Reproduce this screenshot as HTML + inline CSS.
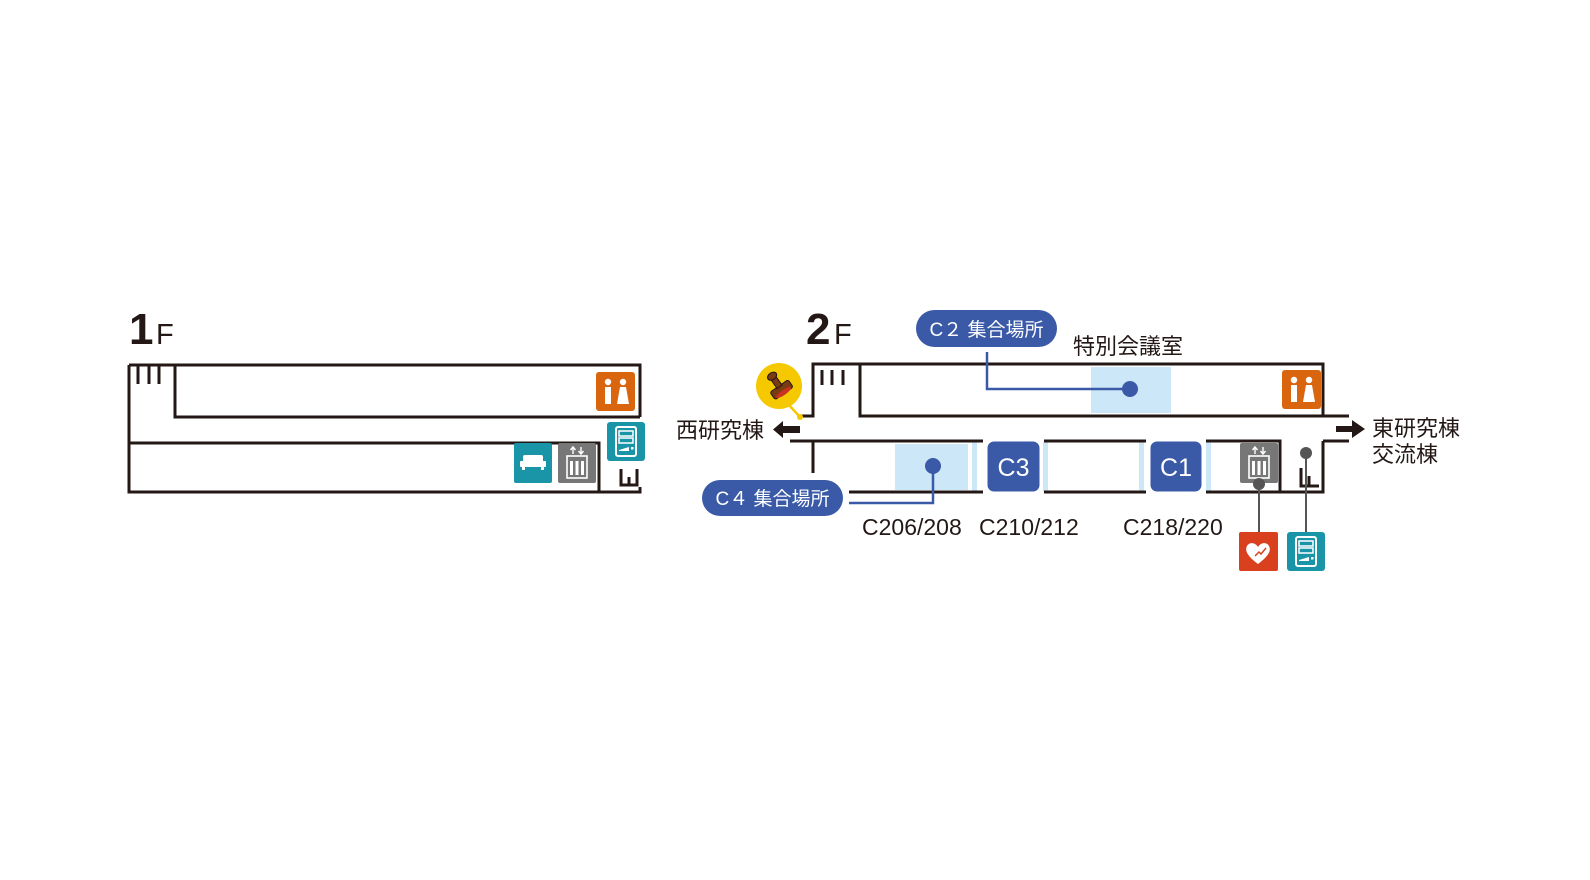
<!DOCTYPE html>
<html><head><meta charset="utf-8"><style>
html,body{margin:0;padding:0;background:#fff;}
svg{display:block;}
text{font-family:"Liberation Sans","Noto Sans CJK JP",sans-serif;}
</style></head><body>
<svg width="1590" height="880" viewBox="0 0 1590 880" xmlns="http://www.w3.org/2000/svg">
<defs>
<g id="toilet"><rect width="39" height="39" rx="3" fill="#d9650f"/>
<circle cx="12" cy="10" r="3.2" fill="#fff"/><rect x="9" y="15" width="6" height="17" fill="#fff"/>
<circle cx="27" cy="10" r="3.2" fill="#fff"/><path d="M24 15h6l3 17h-12z" fill="#fff"/></g>
<g id="elev"><rect width="38" height="40" rx="2" fill="#777"/>
<rect x="9" y="13" width="20" height="22" fill="none" stroke="#fff" stroke-width="1.6"/>
<path d="M15 11V4M12.5 7l2.5-3 2.5 3M23 4v7M20.5 8l2.5 3 2.5-3" stroke="#fff" stroke-width="1.4" fill="none"/>
<g fill="#fff"><rect x="12" y="18" width="3" height="14"/><rect x="17.5" y="18" width="3" height="14"/><rect x="23" y="18" width="3" height="14"/></g></g>
<g id="vend"><rect width="38" height="39" rx="3" fill="#1a95a8"/>
<rect x="9" y="5" width="20" height="29" rx="2" fill="none" stroke="#fff" stroke-width="2"/>
<rect x="12" y="9" width="14" height="5" fill="none" stroke="#fff" stroke-width="1.5"/>
<rect x="12" y="16" width="14" height="5" fill="none" stroke="#fff" stroke-width="1.5"/>
<path d="M12 28l10-3v4h-10z" fill="#fff"/><rect x="24" y="25" width="2.5" height="2.5" fill="#fff"/></g>
</defs>

<!-- 1F -->
<text x="129" y="344" font-size="44" font-weight="bold" fill="#231815">1</text>
<text x="156" y="344" font-size="29" fill="#231815">F</text>
<g stroke="#231815" stroke-width="3" fill="none">
<path d="M129 365H640V417"/>
<path d="M129 365V492H640V487"/>
<path d="M175 365V417H640"/>
<path d="M129 443H599V492"/>
<path d="M138 366V384M149 366V384M159 366V384"/>
<path d="M621 469V485H637V469M629 477V485"/>
</g>
<use href="#toilet" x="596" y="372"/>
<rect x="514" y="443" width="38" height="40" rx="2" fill="#1a95a8"/>
<g fill="#fff"><rect x="523" y="455" width="20" height="10" rx="2"/><rect x="520" y="461" width="26" height="6" rx="1"/><rect x="522" y="466" width="3" height="4"/><rect x="541" y="466" width="3" height="4"/></g>
<use href="#elev" x="558" y="443"/>
<use href="#vend" x="607" y="422"/>

<!-- 2F -->
<text x="806" y="344" font-size="44" font-weight="bold" fill="#231815">2</text>
<text x="834" y="344" font-size="29" fill="#231815">F</text>
<rect x="1091" y="367" width="80" height="46" fill="#cce8f8"/>
<rect x="895" y="444" width="73" height="46" fill="#cce8f8"/>
<g fill="#cce8f8"><rect x="972" y="442" width="5" height="50"/><rect x="1043" y="442" width="5" height="50"/><rect x="1139" y="442" width="5" height="50"/><rect x="1206" y="442" width="5" height="50"/></g>
<g stroke="#231815" stroke-width="3" fill="none">
<path d="M800 416H813V364H1323V416"/>
<path d="M860 364V416H1349"/>
<path d="M790 441H983M1044 441H1146M1206 441H1280V492"/>
<path d="M1323 441H1349"/>
<path d="M1323 441V492H1206M1146 492H1044M983 492H849"/>
<path d="M813 441V473"/>
<path d="M822 370V385M832 370V385M843 370V385"/>
<path d="M1301 468V486H1319M1309 476V486"/>
</g>
<rect x="986" y="440" width="55" height="53" rx="8" fill="#3a5aa8" stroke="#fff" stroke-width="3"/>
<text x="1013.5" y="476" font-size="25" fill="#fff" text-anchor="middle">C3</text>
<rect x="1149" y="440" width="54" height="53" rx="8" fill="#3a5aa8" stroke="#fff" stroke-width="3"/>
<text x="1176" y="476" font-size="25" fill="#fff" text-anchor="middle">C1</text>

<!-- connectors -->
<g stroke="#3a5aa8" stroke-width="2.5" fill="none">
<path d="M987 352V389H1130"/>
<path d="M933 466V503H849"/>
</g>
<circle cx="1130" cy="389" r="8" fill="#3a5aa8"/>
<circle cx="933" cy="466" r="8" fill="#3a5aa8"/>
<rect x="916" y="310" width="141" height="37" rx="18.5" fill="#3a5aa8"/>
<text x="986.5" y="336" font-size="19" fill="#fff" text-anchor="middle">C２ 集合場所</text>
<rect x="702" y="480" width="141" height="36" rx="18" fill="#3a5aa8"/>
<text x="772.5" y="505" font-size="19" fill="#fff" text-anchor="middle">C４ 集合場所</text>

<text x="1073" y="354" font-size="22" fill="#231815">特別会議室</text>
<text x="862" y="535" font-size="23" fill="#231815">C206/208</text>
<text x="979" y="535" font-size="23" fill="#231815">C210/212</text>
<text x="1123" y="535" font-size="23" fill="#231815">C218/220</text>

<!-- stamp -->
<path d="M788 404L800 417" stroke="#f5c800" stroke-width="2.5"/>
<circle cx="800" cy="417" r="3" fill="#f5c800"/>
<circle cx="779" cy="386" r="23" fill="#f5c800"/>
<g transform="rotate(-35 779 386)">
<rect x="768" y="386" width="22" height="9" rx="2" fill="#7a3a12" stroke="#231815" stroke-width="1"/>
<ellipse cx="779" cy="394" rx="9" ry="2.5" fill="#c8321e"/>
<rect x="776" y="375" width="6" height="12" fill="#7a3a12" stroke="#231815" stroke-width="1"/>
<ellipse cx="779" cy="374" rx="5" ry="3.5" fill="#7a3a12" stroke="#231815" stroke-width="1"/>
</g>

<!-- arrows -->
<path d="M800 426H783V421L773 429.5L783 438V433H800Z" fill="#231815"/>
<text x="676" y="438" font-size="22" fill="#231815">西研究棟</text>
<path d="M1336 426H1352V420L1365 429L1352 438V432H1336Z" fill="#231815"/>
<text x="1372" y="436" font-size="22" fill="#231815">東研究棟</text>
<text x="1372" y="462" font-size="22" fill="#231815">交流棟</text>

<!-- icons 2F -->
<use href="#toilet" x="1282" y="370"/>
<use href="#elev" x="1240" y="443"/>
<g stroke="#555" stroke-width="2"><path d="M1259 484V533"/><path d="M1306 453V533"/></g>
<circle cx="1259" cy="484" r="6" fill="#555"/>
<circle cx="1306" cy="453" r="6" fill="#555"/>
<rect x="1239" y="532" width="39" height="39" rx="2" fill="#d8401e"/>
<path d="M1258 564C1246 555 1245 550 1247 546C1249 542 1255 542 1258 547C1261 542 1267 542 1269 546C1271 550 1270 555 1258 564Z" fill="#fff"/>
<path d="M1255 556l4-4 2 2 5-6" stroke="#d8401e" stroke-width="1.5" fill="none"/>
<use href="#vend" x="1287" y="532"/>
</svg>
</body></html>
